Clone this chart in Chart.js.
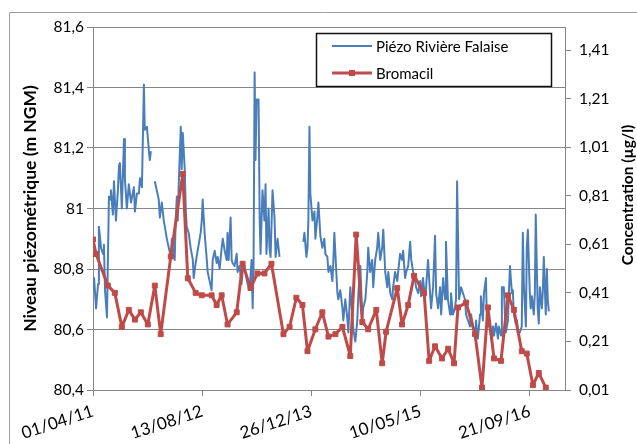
<!DOCTYPE html>
<html>
<head>
<meta charset="utf-8">
<script src="https://cdn.jsdelivr.net/npm/chart.js@4.4.1/dist/chart.umd.min.js"></script>
<style>
    body { margin: 0; background: #fff; }
    canvas { display: block; }
</style>
</head>
<body>
<canvas id="piezoChart" width="637" height="444"></canvas>
<script>
// Days are counted from 01/04/2011 (left end of the time axis)
const xTickDays = [0, 500, 1000, 1500, 2000];
const xTickLabels = ['01/04/11', '13/08/12', '26/12/13', '10/05/15', '21/09/16'];
const levelTicks = [80.4, 80.6, 80.8, 81, 81.2, 81.4, 81.6];
const concTicks = [0.01, 0.21, 0.41, 0.61, 0.81, 1.01, 1.21, 1.41];

// Piézo Rivière Falaise - water level (m NGM), null = no record
const piezoDay = [
    0, 5, 14, 23, 27, 37, 46, 50, 55, 64,
    73, 78, 82, 91, 96, 105, 114, 119, 123, 132,
    142, 146, 155, 164, 174, 187, 192, 201, 210, 215,
    224, 233, 237, 247, 256, 260, 265, 274, 283, 301,
    306, 315, 324, 329, 338, 347, 356, 361, 365, 374,
    379, 384, 388, 393, 402, 406, 411, 420, 425, 429,
    438, 447, 457, 461, 470, 479, 493, 498, 502, 511,
    521, 525, 534, 543, 548, 557, 566, 571, 580, 589,
    594, 603, 612, 616, 621, 630, 635, 639, 648, 658,
    662, 671, 680, 685, 694, 703, 708, 717, 726, 731,
    735, 740, 744, 749, 758, 763, 767, 776, 785, 790,
    794, 804, 808, 813, 822, 831, 836, 845, 854, 900,
    963, 968, 977, 982, 986, 991, 995, 1005, 1014, 1018,
    1027, 1032, 1041, 1050, 1059, 1064, 1073, 1078, 1087, 1096,
    1100, 1105, 1114, 1119, 1123, 1132, 1142, 1146, 1155, 1164,
    1169, 1178, 1187, 1192, 1201, 1210, 1215, 1224, 1233, 1237,
    1247, 1256, 1260, 1269, 1278, 1283, 1292, 1301, 1306, 1315,
    1324, 1329, 1338, 1347, 1352, 1361, 1370, 1374, 1383, 1393,
    1397, 1406, 1415, 1420, 1429, 1434, 1443, 1452, 1457, 1466,
    1475, 1479, 1489, 1498, 1502, 1511, 1520, 1525, 1534, 1543,
    1548, 1557, 1566, 1571, 1580, 1589, 1594, 1603, 1612, 1616,
    1625, 1635, 1639, 1648, 1657, 1662, 1667, 1676, 1685, 1694,
    1703, 1708, 1717, 1726, 1731, 1740, 1749, 1753, 1762, 1772,
    1776, 1785, 1790, 1799, 1804, 1808, 1817, 1826, 1831, 1836,
    1845, 1854, 1858, 1868, 1872, 1881, 1886, 1890, 1900, 1904,
    1909, 1918, 1922, 1927, 1936, 1941, 1945, 1954, 1963, 1968,
    1973, 1982, 1986, 1991, 2000, 2004, 2009, 2018, 2023, 2027,
    2036, 2041, 2046, 2055, 2059, 2064, 2073, 2078, 2082, 2087
];
const piezoLevel = [
    80.73, 80.77, 80.67, 80.75, 80.94, 80.87, 80.85, 80.88, 80.73, 80.64,
    81.04, 81.03, 81.06, 80.98, 81.09, 80.96, 81.06, 81.14, 81.15, 81.00,
    81.23, 81.10, 81.00, 81.08, 81.02, 81.07, 80.99, 81.05, 81.05, 81.10,
    81.07, 81.41, 81.26, 81.27, 81.19, 81.16, 81.19, null, 81.09, 81.03,
    80.97, 81.02, 80.96, 80.94, 80.90, 80.87, 80.84, 80.90, 80.87, 80.83,
    80.97, 81.04, 80.96, 81.09, 81.27, 81.13, 81.25, 81.13, 80.99, 80.94,
    80.92, 80.87, 80.83, 80.77, 80.82, 80.86, 80.92, 80.96, 81.03, 80.92,
    80.83, 80.79, 80.76, 80.73, 80.83, 80.86, 80.82, 80.84, 80.80, 80.87,
    80.90, 80.86, 80.83, 80.92, 80.83, 80.97, 80.83, 80.82, 80.81, 80.85,
    80.79, 80.81, 80.75, 80.79, 80.81, 80.77, 80.75, 80.73, 80.83, 80.67,
    80.81, 81.45, 81.16, 81.36, 81.36, 80.97, 80.85, 81.06, 80.96, 81.08,
    80.85, 81.00, 80.87, 80.84, 81.06, 80.97, 80.84, 80.90, 80.84, null,
    80.89, 80.92, 80.84, 80.87, 80.96, 81.27, 81.05, 80.96, 80.99, 80.90,
    80.97, 81.02, 80.91, 80.87, 80.90, 80.85, 80.84, 80.79, 80.81, 80.76,
    80.82, 80.92, 80.79, 80.72, 80.70, 80.73, 80.67, 80.63, 80.70, 80.64,
    80.59, 80.74, 80.65, 80.60, 80.56, 80.63, 80.72, 80.81, 80.63, 80.67,
    80.70, 80.79, 80.87, 80.79, 80.83, 80.74, 80.83, 80.87, 80.92, 80.83,
    80.87, 80.93, 80.79, 80.74, 80.79, 80.72, 80.70, 80.74, 80.79, 80.76,
    80.79, 80.85, 80.83, 80.86, 80.77, 80.79, 80.81, 80.89, 80.83, 80.79,
    80.76, 80.74, 80.72, 80.76, 80.71, 80.77, 80.70, 80.74, 80.83, 80.72,
    80.67, 80.74, 80.91, 80.72, 80.67, 80.74, 80.65, 80.77, 80.70, 80.89,
    80.70, 80.65, 80.72, 80.65, 80.67, 80.70, 81.09, 80.70, 80.74, 80.72,
    80.70, 80.65, 80.63, 80.61, 80.65, 80.61, 80.59, 80.63, 80.57, 80.65,
    80.71, 80.63, 80.72, 80.77, 80.61, 80.64, 80.60, 80.56, 80.61, 80.58,
    80.62, 80.57, 80.61, 80.58, 80.74, 80.74, 80.65, 80.59, 80.63, 80.72,
    80.81, 80.72, 80.73, 80.65, 80.62, 80.63, 80.59, 80.59, 80.61, 80.92,
    80.74, 80.61, 80.87, 80.93, 80.72, 80.67, 80.71, 80.65, 80.72, 80.98,
    80.67, 80.62, 80.74, 80.67, 80.72, 80.84, 80.65, 80.80, 80.70, 80.66
];

// Bromacil samples (µg/l)
const bromacilDay = [
    0, 14, 68, 100, 132, 164, 192, 219, 251, 283,
    310, 356, 411, 434, 470, 498, 543, 566, 589, 616,
    658, 685, 721, 753, 785, 817, 872, 900, 931, 959,
    982, 1018, 1050, 1078, 1110, 1142, 1178, 1205, 1233, 1260,
    1297, 1324, 1342, 1393, 1415, 1443, 1470, 1516, 1539, 1566,
    1598, 1626, 1653, 1671, 1708, 1749, 1781, 1808, 1836, 1868,
    1900, 1927, 1963, 1986, 2014, 2041, 2073
];
const bromacilConc = [
    0.63, 0.57, 0.44, 0.41, 0.27, 0.34, 0.30, 0.33, 0.28, 0.44,
    0.24, 0.56, 0.90, 0.47, 0.41, 0.40, 0.40, 0.36, 0.40, 0.28,
    0.33, 0.53, 0.43, 0.49, 0.49, 0.53, 0.24, 0.27, 0.39, 0.36,
    0.17, 0.26, 0.33, 0.23, 0.24, 0.27, 0.15, 0.65, 0.29, 0.26,
    0.34, 0.12, 0.25, 0.43, 0.28, 0.36, 0.48, 0.41, 0.13, 0.19,
    0.14, 0.18, 0.12, 0.35, 0.37, 0.24, 0.02, 0.35, 0.14, 0.13,
    0.40, 0.34, 0.17, 0.16, 0.03, 0.08, 0.02
];

const FONT = 'Lato, "Liberation Sans", sans-serif';
const AXIS_GREY = '#868686';
const concTitle = 'Concentration (µg/l)';

// decimal comma like the French Excel export
const frNumber = v => String(v).replace('.', ',');

// Chart frame, right-hand title (reads bottom to top) and boxed legend
const frameAndLegend = {
    id: 'frameAndLegend',
    afterDraw(chart) {
        const ctx = chart.ctx;
        ctx.save();

        ctx.strokeStyle = '#a0a0a0';
        ctx.lineWidth = 1;
        ctx.beginPath();
        ctx.moveTo(9.5, chart.height);
        ctx.lineTo(9.5, 12.5);
        ctx.lineTo(chart.width, 12.5);
        ctx.stroke();

        ctx.save();
        ctx.translate(628, 195);
        ctx.rotate(-Math.PI / 2);
        ctx.font = 'bold 15.5px ' + FONT;
        ctx.fillStyle = '#000';
        ctx.textAlign = 'center';
        ctx.textBaseline = 'middle';
        ctx.fillText(concTitle, 0, 0);
        ctx.restore();

        ctx.fillStyle = '#fff';
        ctx.fillRect(316, 33, 235, 53);
        ctx.strokeStyle = '#111';
        ctx.lineWidth = 1.5;
        ctx.strokeRect(316.5, 33.5, 235, 53);

        ctx.font = '15px ' + FONT;
        ctx.textBaseline = 'middle';
        chart.data.datasets.forEach((ds, i) => {
            const y = 46 + i * 27;
            ctx.strokeStyle = ds.borderColor;
            ctx.lineWidth = ds.borderWidth;
            ctx.beginPath();
            ctx.moveTo(332, y);
            ctx.lineTo(372, y);
            ctx.stroke();
            if (ds.pointRadius) {
                ctx.fillStyle = ds.borderColor;
                ctx.fillRect(349, y - 3, 6, 6);
            }
            ctx.fillStyle = '#000';
            ctx.fillText(ds.label, 376, y + 1);
        });
        ctx.restore();
    }
};

const ctx = document.getElementById('piezoChart').getContext('2d');

const piezoChart = new Chart(ctx, {
    type: 'line',
    data: {
        datasets: [{
            label: 'Piézo Rivière Falaise',
            data: piezoDay.map((d, i) => ({ x: d, y: piezoLevel[i] })),
            yAxisID: 'y',
            borderColor: '#4a7ebb',
            borderWidth: 2,
            borderJoinStyle: 'round',
            pointRadius: 0,
            tension: 0,
            spanGaps: false,
            order: 1
        }, {
            label: 'Bromacil',
            data: bromacilDay.map((d, i) => ({ x: d, y: bromacilConc[i] })),
            yAxisID: 'y1',
            borderColor: '#be4b48',
            backgroundColor: '#be4b48',
            borderWidth: 3,
            borderJoinStyle: 'round',
            pointStyle: 'rect',
            pointRadius: 3.5,
            pointBorderWidth: 1,
            tension: 0,
            order: 0
        }]
    },
    options: {
        responsive: false,
        animation: false,
        layout: { padding: { top: 27, left: 0, right: 0, bottom: 0 } },
        plugins: {
            legend: { display: false },
            tooltip: { enabled: false }
        },
        scales: {
            x: {
                type: 'linear',
                min: 0,
                max: 2161,
                afterFit: s => { s.height = 54; },
                afterBuildTicks: s => { s.ticks = xTickDays.map(v => ({ value: v })); },
                grid: { drawOnChartArea: false, color: AXIS_GREY, tickLength: 6 },
                border: { color: AXIS_GREY },
                ticks: {
                    autoSkip: false,
                    minRotation: 18,
                    maxRotation: 18,
                    padding: 5,
                    color: '#000',
                    font: { family: FONT, size: 17 },
                    callback: v => xTickLabels[xTickDays.indexOf(v)]
                }
            },
            y: {
                position: 'left',
                min: 80.4,
                max: 81.6,
                afterFit: s => { s.width = 93; },
                afterBuildTicks: s => { s.ticks = levelTicks.map(v => ({ value: v })); },
                grid: { color: AXIS_GREY, tickLength: 6 },
                border: { color: AXIS_GREY },
                ticks: {
                    padding: 3,
                    color: '#000',
                    font: { family: FONT, size: 15.5 },
                    callback: v => frNumber(v)
                },
                title: {
                    display: true,
                    text: 'Niveau piézométrique (m NGM)',
                    color: '#000',
                    font: { family: FONT, size: 17.5, weight: 'bold' },
                    padding: { top: 20, bottom: 0 }
                }
            },
            y1: {
                position: 'right',
                min: 0.01,
                max: 1.505,
                afterFit: s => { s.width = 72; },
                afterBuildTicks: s => { s.ticks = concTicks.map(v => ({ value: v })); },
                grid: { drawOnChartArea: false, color: AXIS_GREY, tickLength: 6 },
                border: { color: AXIS_GREY },
                ticks: {
                    padding: 8,
                    color: '#000',
                    font: { family: FONT, size: 15.5 },
                    callback: v => frNumber(v)
                }
            }
        }
    },
    plugins: [frameAndLegend]
});
</script>
</body>
</html>
